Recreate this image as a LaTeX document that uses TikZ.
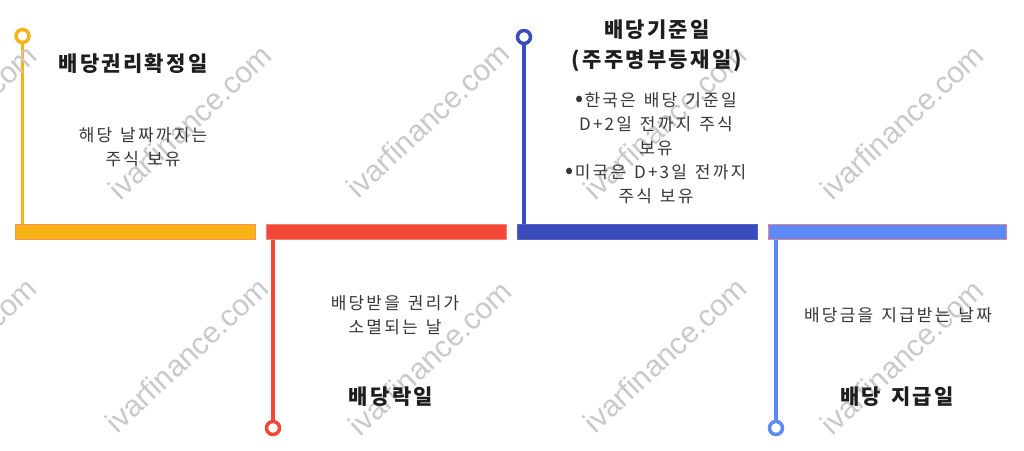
\documentclass[tikz,border=0pt]{standalone}
\usepackage{fontspec}
\setmainfont{Noto Sans CJK KR}
\newfontfamily\wmfont{Liberation Sans}
\newdimen\chgap
\chgap=2pt
% put the Hangul syllables in a class of their own
\newcount\hcnt
\hcnt="AC00
\loop\XeTeXcharclass\hcnt=7 \advance\hcnt by 1 \ifnum\hcnt<"D7A4 \repeat
\def\setgap#1#2{\XeTeXinterchartoks #1 #2 = {\hskip\chgap\relax}}
\setgap00\setgap01\setgap02\setgap03\setgap07
\setgap10\setgap11\setgap12\setgap13\setgap17
\setgap20\setgap21\setgap22\setgap23\setgap27
\setgap30\setgap31\setgap32\setgap33\setgap37
\setgap70\setgap71\setgap72\setgap73\setgap77
\newcommand\titlesetup{\fontsize{21}{30}\selectfont\bfseries\XeTeXinterchartokenstate=1\relax\chgap=2.3pt\relax\spaceskip=10pt\relax}
\newcommand\bodysetup{\fontsize{17}{24}\selectfont\XeTeXinterchartokenstate=1\relax\chgap=2.2pt\relax\spaceskip=8pt\relax}
\newcommand\bul{{\XeTeXinterchartokenstate=0\relax\fontsize{24}{24}\selectfont •}\hskip1pt\relax}
\definecolor{cyel}{RGB}{250,178,25}
\definecolor{cyelo}{RGB}{242,150,90}
\definecolor{cred}{RGB}{242,72,56}
\definecolor{credo}{RGB}{248,130,120}
\definecolor{cblu}{RGB}{58,76,188}
\definecolor{cbluo}{RGB}{90,100,200}
\definecolor{clbl}{RGB}{92,139,245}
\definecolor{clblo}{RGB}{232,130,150}
\definecolor{ctxt}{RGB}{55,55,55}
\definecolor{ctit}{RGB}{30,30,30}
\tikzset{
  title/.style={font={\titlesetup}, text=ctit, align=center, inner sep=0pt},
  body/.style={font={\bodysetup}, text=ctxt, align=center, inner sep=0pt},
  bar/.style={minimum width=240pt, minimum height=15pt, inner sep=0pt, line width=1pt},
  dot/.style={circle, minimum size=13pt, inner sep=0pt, line width=3.5pt, fill=white},
  stem/.style={line width=3.5pt},
  wm/.style={font=\wmfont\fontsize{30}{30}\selectfont, text=black!21, rotate=43, inner sep=0pt}
}
\begin{document}
\begin{tikzpicture}[x=1pt,y=-1pt]
\useasboundingbox[fill=white] (0,0) rectangle (1024,450);
% bars
\node[bar, fill=cyel, draw=cyelo] (b1) at (135,231.5) {};
\node[bar, fill=cred, draw=credo] (b2) at (386,231.5) {};
\node[bar, fill=cblu, draw=cbluo] (b3) at (637,231.5) {};
\node[bar, fill=clbl, draw=clblo, minimum width=238pt] (b4) at (887,231.5) {};
% markers
\node[dot, draw=cyel] (c1) at (22.5,36) {};
\node[dot, draw=cred] (c2) at (273,428) {};
\node[dot, draw=cblu] (c3) at (524,37) {};
\node[dot, draw=clbl] (c4) at (776,428) {};
\draw[stem, cyel] (c1.south) -- (c1 |- b1.north);
\draw[stem, cred] (c2 |- b2.south) -- (c2.north);
\draw[stem, cblu] (c3.south) -- (c3 |- b3.north);
\draw[stem, clbl] (c4 |- b4.south) -- (c4.north);
% watermarks
\foreach \wx/\wy [count=\i] in {-45/122,190/122,428/120,665/122,902/122,-45/355,187/355,430/358,665/355,902/357}{
  \node[wm] (w\i) at (\wx,\wy) {ivarfinance.com};
}
% texts
\node[title] (t1) at (133,64) {배당권리확정일};
\node[body] (d1) at (143,147) {해당 날짜까지는\\주식 보유};
\node[title] (t3) at (657,46) {배당기준일\\(주주명부등재일)};
\node[body] (d3) at (656,148) {\bul 한국은 배당 기준일\\D+2일 전까지 주식\\보유\\\bul 미국은 D+3일 전까지\\주식 보유};
\node[body] (d2) at (395,315) {배당받을 권리가\\소멸되는 날};
\node[title] (t2) at (391,397) {배당락일};
\node[body] (d4) at (898,315) {배당금을 지급받는 날짜};
\node[title] (t4) at (897,397) {배당 지급일};
\end{tikzpicture}
\end{document}
